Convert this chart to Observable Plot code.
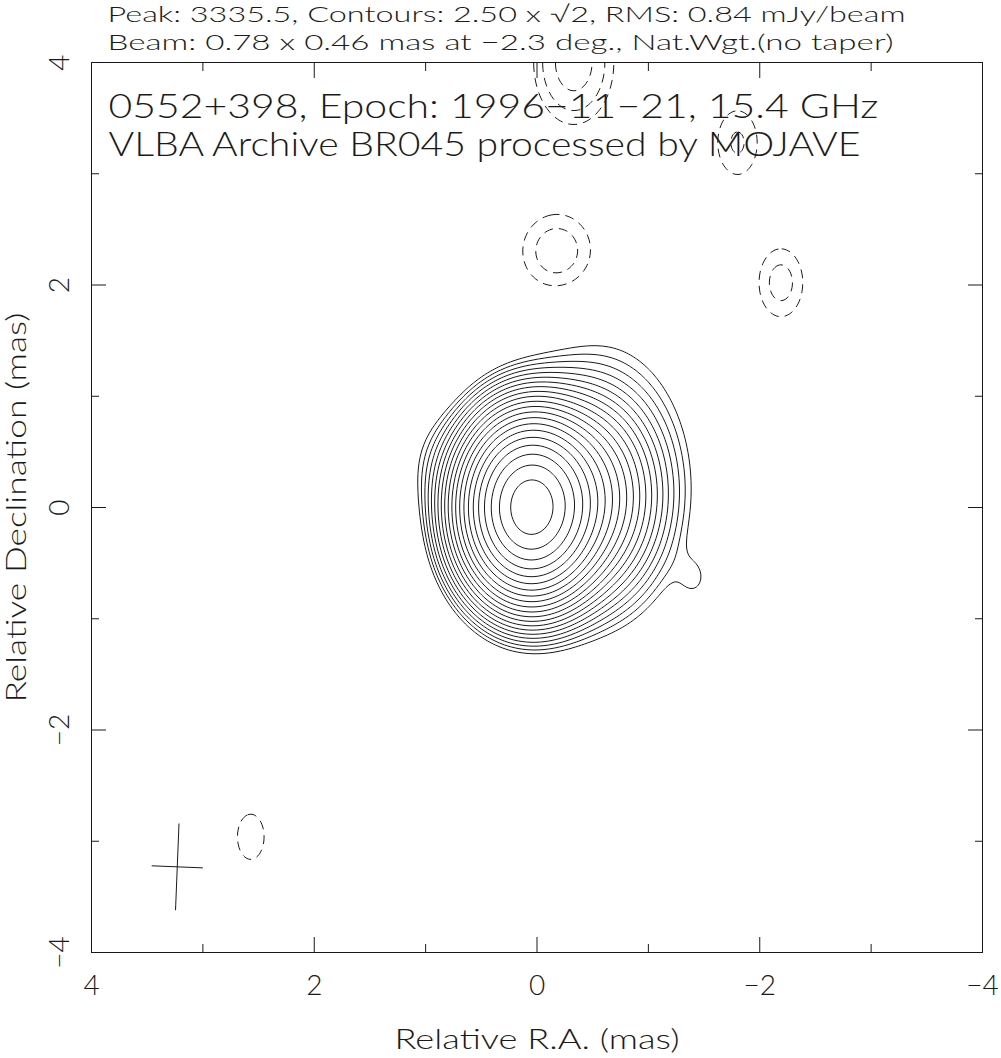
<!DOCTYPE html>
<html>
<head>
<meta charset="utf-8">
<script src="https://cdn.jsdelivr.net/npm/d3@7"></script>
<script src="https://cdn.jsdelivr.net/npm/@observablehq/plot@0.6"></script>
<style>
  html, body { margin: 0; padding: 0; background: #fff; }
  #chart svg { display: block; font-family: Lato, "DejaVu Sans", sans-serif; font-weight: 300; }
</style>
</head>
<body>
<div id="chart"></div>
<script>
// ---- Texts ----
const header1 = "Peak: 3335.5, Contours: 2.50 x \u221A2, RMS: 0.84 mJy/beam";
const header2 = "Beam: 0.78 x 0.46 mas at \u22122.3 deg., Nat.Wgt.(no taper)";
const title1 = "0552+398, Epoch: 1996\u221211\u221221, 15.4 GHz";
const title2 = "VLBA Archive BR045 processed by MOJAVE";
const xLabel = "Relative R.A. (mas)";
const yLabel = "Relative Declination (mas)";

// ---- Axis ticks ----
const majorTicks = [-4, -2, 0, 2, 4];
const minorTicks = [-3, -1, 1, 3];

// ---- Contour levels (mJy/beam): 2.50 x sqrt(2)^k ----
const posLevels = [2.5, 3.54, 5, 7.07, 10, 14.14, 20, 28.28, 40, 56.57, 80, 113.1, 160, 226.3, 320, 452.5, 640, 905.1, 1280, 1810, 2560];
const negLevels = [2.5, 3.54, 5];

// ---- Image model components (mas, mJy/beam) ----
const compX     = [0.06, -0.35, -0.60, -1.42, 0.85,  -0.18, -2.19, -1.80, -0.33, 2.57];
const compY     = [0.00,  0.10,  0.25, -0.64, 0.40,   2.30,  2.02,  3.28,  4.00, -2.96];
const compPeak  = [3170, 300,   10,    2.1,   2.5,   -4.45, -4.05, -3.7,  -6.0, -3.2];
const compFwhmX = [0.61, 0.70,  1.00,  0.30,  0.50,   0.68,  0.47,  0.47,  0.64, 0.40];
const compFwhmY = [0.81, 0.90,  1.60,  0.42,  0.70,   0.73,  0.73,  0.76,  0.99, 0.68];

// ---- Restoring beam ----
const beamMaj = 0.78, beamMin = 0.46, beamPA = -2.3;
const beamCenterX = 3.23, beamCenterY = -3.23;

const F = 2 * Math.sqrt(2 * Math.log(2));
function image(x, y) {
  let s = 0;
  for (let i = 0; i < compX.length; i++) {
    const sx = compFwhmX[i] / F, sy = compFwhmY[i] / F;
    const dx = x - compX[i], dy = y - compY[i];
    s += compPeak[i] * Math.exp(-(dx * dx) / (2 * sx * sx) - (dy * dy) / (2 * sy * sy));
  }
  return s;
}

const pa = beamPA * Math.PI / 180;
const beamLines = [
  {x1: beamCenterX - Math.sin(pa) * beamMaj / 2, y1: beamCenterY - Math.cos(pa) * beamMaj / 2,
   x2: beamCenterX + Math.sin(pa) * beamMaj / 2, y2: beamCenterY + Math.cos(pa) * beamMaj / 2},
  {x1: beamCenterX + Math.cos(pa) * beamMin / 2, y1: beamCenterY - Math.sin(pa) * beamMin / 2,
   x2: beamCenterX - Math.cos(pa) * beamMin / 2, y2: beamCenterY + Math.sin(pa) * beamMin / 2}
];

const fmt = d => d < 0 ? "\u2212" + (-d) : String(d);
const ink = "#1a1a1a";

const chart = Plot.plot({
  width: 1001,
  height: 1058,
  marginLeft: 91,
  marginRight: 19,
  marginTop: 62,
  marginBottom: 106,
  style: {fontFamily: "Lato, 'DejaVu Sans', sans-serif", fontWeight: 300, color: ink},
  x: {domain: [-4, 4], reverse: true, axis: null},
  y: {domain: [-4, 4], axis: null},
  marks: [
    Plot.contour({x1: -4, x2: 4, y1: -4, y2: 4, pixelSize: 1, value: image,
      thresholds: posLevels, fill: "none", stroke: ink, strokeWidth: 1, clip: true}),
    Plot.contour({x1: -4, x2: 4, y1: -4, y2: 4, pixelSize: 1, value: (x, y) => -image(x, y),
      thresholds: negLevels, fill: "none", stroke: ink, strokeWidth: 1, strokeDasharray: "9,6", clip: true}),
    Plot.link(beamLines, {x1: "x1", y1: "y1", x2: "x2", y2: "y2", stroke: ink, strokeWidth: 1}),
    Plot.frame({stroke: ink, strokeWidth: 1}),
    // inward ticks on all four sides
    Plot.axisX({anchor: "bottom", ticks: majorTicks, tickSize: -15, fill: "none", label: null}),
    Plot.axisX({anchor: "bottom", ticks: minorTicks, tickSize: -8, fill: "none", label: null}),
    Plot.axisX({anchor: "top", ticks: majorTicks, tickSize: -15, fill: "none", label: null}),
    Plot.axisX({anchor: "top", ticks: minorTicks, tickSize: -8, fill: "none", label: null}),
    Plot.axisY({anchor: "left", ticks: majorTicks, tickSize: -15, fill: "none", label: null}),
    Plot.axisY({anchor: "left", ticks: minorTicks, tickSize: -8, fill: "none", label: null}),
    Plot.axisY({anchor: "right", ticks: majorTicks, tickSize: -15, fill: "none", label: null}),
    Plot.axisY({anchor: "right", ticks: minorTicks, tickSize: -8, fill: "none", label: null}),
    // tick labels
    Plot.axisX({anchor: "bottom", ticks: majorTicks, tickSize: 0, tickPadding: 23, tickFormat: fmt,
      fontSize: 28, fill: ink, label: null}),
    Plot.axisY({anchor: "left", ticks: majorTicks, tickSize: 0, tickPadding: 31, tickFormat: fmt,
      tickRotate: -90, textAnchor: "middle", lineAnchor: "middle", fontSize: 28, fill: ink, label: null}),
    // axis titles
    Plot.text([xLabel], {frameAnchor: "bottom", dy: 88, textAnchor: "middle", lineAnchor: "middle", fontSize: 28, fill: ink}),
    Plot.text([yLabel], {frameAnchor: "left", dx: -74, rotate: -90, textAnchor: "middle", lineAnchor: "middle", fontSize: 28, fill: ink}),
    // header above the frame
    Plot.text([header1], {frameAnchor: "top-left", dx: 16, dy: -47.5, textAnchor: "start", lineAnchor: "middle", fontSize: 22, fill: ink}),
    Plot.text([header2], {frameAnchor: "top-left", dx: 16, dy: -19.5, textAnchor: "start", lineAnchor: "middle", fontSize: 22, fill: ink}),
    // titles inside frame
    Plot.text([title1], {frameAnchor: "top-left", dx: 17, dy: 44.5, textAnchor: "start", lineAnchor: "middle", fontSize: 33, fill: ink}),
    Plot.text([title2], {frameAnchor: "top-left", dx: 17, dy: 83, textAnchor: "start", lineAnchor: "middle", fontSize: 33, fill: ink})
  ]
});

// fit text widths to the reference's character spacing
const widths = new Map([[header1, 798], [header2, 786], [title1, 770], [title2, 752], [xLabel, 285], [yLabel, 390]]);
chart.querySelectorAll("text").forEach(t => {
  const w = widths.get(t.textContent);
  if (w) { t.setAttribute("textLength", w); t.setAttribute("lengthAdjust", "spacingAndGlyphs"); }
});
document.getElementById("chart").appendChild(chart);
</script>
</body>
</html>
